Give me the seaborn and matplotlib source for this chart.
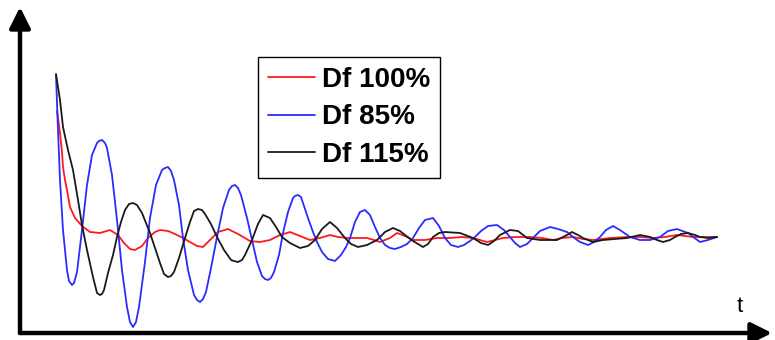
import matplotlib
matplotlib.use('Agg')
import matplotlib.pyplot as plt
import seaborn as sns
import pandas as pd

sns.set_style('white')
plt.rcParams['font.family'] = ['Liberation Sans', 'DejaVu Sans']
plt.rcParams['text.color'] = 'black'

# response (t in arbitrary time units, amplitude around the settled value)
t_100 = [1, 3, 4, 6, 7, 9, 11, 14, 19, 26, 34, 44, 54, 62, 68, 74, 79, 86, 92, 99,
         104, 112, 119, 127, 134, 141, 147, 154, 162, 172, 182, 194, 204, 214, 224, 234, 244, 254, 264, 274,
         282, 291, 301, 311, 318, 324, 334, 341, 349, 357, 369, 381, 394, 406, 417, 424, 431, 439, 447, 459,
         474, 486, 497, 506, 517, 527, 537, 554, 571, 584, 597, 609, 621, 629, 637, 649, 661]
v_100 = [126, 112, 104, 85, 70, 57, 47, 30, 19, 11, 5, 4, 7, 2, -6, -12, -13, -9, -1, 5,
         7, 6, 3, -1, -5, -9, -10, -3, 5, 8, 3, -4, -5, -3, 2, 5, 1, -3, -1, 2,
         0, -1, -1, -1, -3, -5, -1, 4, 1, -3, -3, -1, -1, 0, -1, -3, -5, -3, -1, 0,
         0, -1, -3, -1, 0, -2, -3, -1, 0, 0, -1, 0, 2, 1, 0, 0, 0]

t_85 = [0, 2, 4, 7, 11, 13, 16, 18, 21, 26, 31, 36, 41, 43, 46, 49, 51, 56, 61, 66,
        71, 74, 77, 80, 83, 89, 94, 100, 106, 109, 112, 115, 118, 123, 127, 132, 138, 141, 144, 147,
        150, 155, 161, 167, 173, 176, 179, 182, 185, 191, 196, 201, 206, 209, 212, 215, 218, 223, 227, 232,
        237, 239, 242, 245, 247, 252, 257, 261, 266, 272, 279, 285, 290, 294, 299, 304, 309, 314, 319, 324,
        329, 334, 339, 345, 351, 357, 363, 369, 377, 383, 389, 395, 402, 408, 414, 419, 425, 432, 441, 448,
        454, 459, 464, 471, 477, 484, 494, 502, 511, 517, 524, 532, 538, 544, 550, 557, 564, 574, 584, 594,
        604, 612, 621, 632, 644, 652, 661]
v_85 = [162, 107, 57, 7, -33, -44, -48, -46, -35, 7, 52, 82, 94, 96, 97, 94, 89, 62, 17, -33,
        -70, -85, -90, -85, -70, -25, 19, 52, 67, 69, 70, 66, 57, 32, -1, -33, -58, -63, -65, -62,
        -55, -31, 0, 29, 47, 51, 52, 49, 42, 19, -3, -25, -39, -42, -43, -41, -35, -18, 4, 25,
        39, 41, 42, 40, 34, 19, 5, -5, -15, -22, -24, -18, -10, -1, 15, 25, 27, 22, 10, -1,
        -8, -11, -12, -10, -7, -1, 9, 17, 19, 11, -1, -8, -10, -8, -4, 0, 6, 11, 12, 7,
        0, -6, -10, -7, -1, 6, 10, 8, 5, 0, -5, -8, -5, 0, 7, 11, 7, 0, -3, -3,
        0, 6, 8, 4, -5, -3, 0]

t_115 = [0, 4, 7, 12, 17, 22, 26, 31, 37, 41, 44, 46, 48, 52, 57, 61, 65, 69, 73, 77,
         81, 86, 94, 99, 104, 108, 112, 115, 118, 123, 129, 134, 138, 142, 146, 149, 155, 161, 168, 175,
         178, 182, 186, 189, 196, 202, 207, 214, 220, 226, 234, 244, 252, 259, 266, 274, 281, 289, 295, 302,
         311, 321, 329, 337, 344, 349, 357, 367, 372, 377, 383, 389, 404, 417, 425, 432, 438, 444, 454, 462,
         471, 484, 501, 511, 516, 522, 527, 537, 547, 559, 571, 584, 594, 601, 607, 614, 619, 625, 632, 639,
         644, 652, 661]
v_115 = [163, 137, 110, 87, 67, 37, 12, -13, -40, -56, -58, -57, -53, -36, -18, 0, 15, 27, 33, 34,
         32, 24, 4, -11, -26, -37, -40, -39, -35, -21, -1, 15, 26, 28, 27, 23, 13, 0, -13, -23,
         -24, -25, -23, -18, -3, 13, 22, 19, 10, 0, -6, -11, -9, -3, 8, 15, 9, -1, -7, -10,
         -8, -3, 5, 9, 6, 2, -4, -10, -7, 0, 4, 5, 4, -1, -6, -8, -4, 2, 7, 6,
         -1, -3, -3, 2, 5, 2, -1, -5, -3, -2, -1, 2, 0, -3, -5, -3, 0, 3, 4, 2,
         0, -1, 0]

labels = ['Df 100%', 'Df 85%', 'Df 115%']
colors = ['#ff1a1a', '#2b2bff', '#1a1a1a']

df = pd.concat([
    pd.DataFrame({'t': t_100, 'v': v_100, 'case': labels[0]}),
    pd.DataFrame({'t': t_85, 'v': v_85, 'case': labels[1]}),
    pd.DataFrame({'t': t_115, 'v': v_115, 'case': labels[2]}),
])

fig = plt.figure(figsize=(7.75, 3.4), dpi=100)
ax = fig.add_axes([20 / 775, 7 / 340, 752 / 775, 326 / 340])

sns.lineplot(data=df, x='t', y='v', hue='case', hue_order=labels, palette=colors,
             estimator=None, sort=False, linewidth=1.3, ax=ax, legend=False)

ax.set_xlim(-36, 716)
ax.set_ylim(-96, 230)
ax.set_xticks([])
ax.set_yticks([])
ax.set_xlabel('')
ax.set_ylabel('')
for s in ax.spines.values():
    s.set_visible(False)

# axes drawn as thick arrows
arrow = dict(arrowstyle='-|>,head_length=0.9,head_width=0.45', lw=3.2, color='black',
             shrinkA=0, shrinkB=0, mutation_scale=14)
ax.annotate('', xy=(0, 1), xytext=(0, 0), xycoords='axes fraction', arrowprops=arrow,
            annotation_clip=False)
ax.annotate('', xy=(1, 0), xytext=(0, 0), xycoords='axes fraction', arrowprops=arrow,
            annotation_clip=False)
fig.text(740 / 775, 1 - 307 / 340, 't', fontsize=16, ha='center', va='center', color='black')

handles = [plt.Line2D([], [], color=c, lw=1.3) for c in colors]
leg = fig.legend(handles, labels, loc='upper left', bbox_to_anchor=(258 / 775, 1 - 57 / 340),
                 prop={'weight': 'bold', 'size': 20}, frameon=True, fancybox=False,
                 framealpha=1, edgecolor='black', handlelength=1.7, handletextpad=0.25,
                 borderpad=0.35, labelspacing=0.42, borderaxespad=0, labelcolor='black')
leg.get_frame().set_linewidth(1.0)

plt.savefig('out.png', dpi=100)
